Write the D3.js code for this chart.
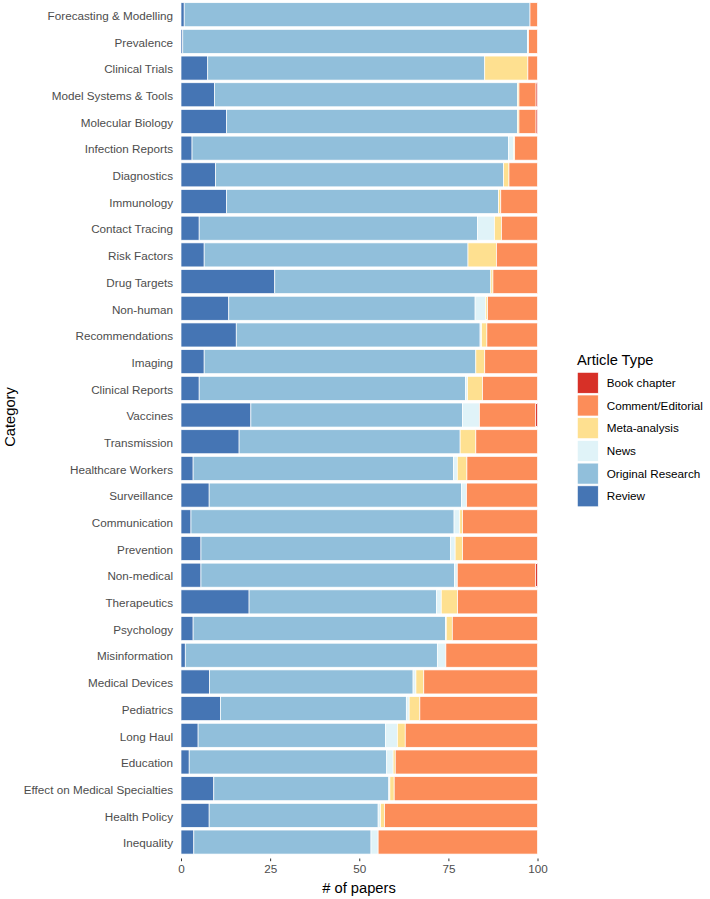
<!DOCTYPE html>
<html><head><meta charset="utf-8">
<script src="https://cdn.jsdelivr.net/npm/d3@7/dist/d3.min.js"></script>
<style>body{margin:0;background:#fff;font-family:"Liberation Sans",Arial,sans-serif;}</style>
</head><body><svg id="c" width="710" height="899"></svg>
<script>
const categories = ["Forecasting & Modelling","Prevalence","Clinical Trials","Model Systems & Tools","Molecular Biology","Infection Reports","Diagnostics","Immunology","Contact Tracing","Risk Factors","Drug Targets","Non-human","Recommendations","Imaging","Clinical Reports","Vaccines","Transmission","Healthcare Workers","Surveillance","Communication","Prevention","Non-medical","Therapeutics","Psychology","Misinformation","Medical Devices","Pediatrics","Long Haul","Education","Effect on Medical Specialties","Health Policy","Inequality"];
const types = ["Book chapter","Comment/Editorial","Meta-analysis","News","Original Research","Review"];
const colors = ["#d73027","#fc8d59","#fee090","#e0f3f8","#91bfdb","#4575b4"];
const review   = [0.9,0.5,7.5,9.4,12.8,3.1,9.7,12.8,5.1,6.5,26.3,13.4,15.5,6.5,5.1,19.6,16.3,3.4,7.9,2.8,5.6,5.6,19.1,3.4,1.2,8.0,11.1,4.8,2.3,9.2,7.9,3.6];
const original = [97.0,96.7,77.7,85.0,81.6,88.8,80.8,76.3,78.1,74.0,60.6,69.1,68.4,76.2,74.7,59.4,62.0,73.0,70.8,73.8,70.0,71.1,52.6,70.8,70.7,57.1,52.1,52.6,55.4,49.1,47.4,49.7];
const news     = [0,0.3,0,0,0,1.4,0,0,4.7,0,0,3.0,0.4,0,0.6,4.7,0,1.1,1.4,1.6,1.3,0.8,1.3,0.2,2.4,0.8,0.8,3.3,1.8,0.3,0.7,2.0];
const meta     = [0,0,12.1,0.4,0.4,0.3,1.5,0.6,2.0,8.0,0.6,0.5,1.5,2.5,4.2,0,4.4,2.7,0,0.8,2.1,0,4.6,1.7,0,2.2,3.0,2.2,0.6,1.2,1.1,0];
const comment  = [2.1,2.5,2.7,4.8,4.8,6.4,8.0,10.3,10.1,11.5,12.5,14.0,14.2,14.8,15.4,15.8,17.3,19.8,19.9,21.0,21.0,22.0,22.4,23.9,25.7,31.9,33.0,37.1,39.9,40.2,42.9,44.7];
const book     = [0,0,0,0.4,0.4,0,0,0,0,0,0,0,0,0,0,0.5,0,0,0,0,0,0.5,0,0,0,0,0,0,0,0,0,0];
const xTicks = [0,25,50,75,100];

const rows = categories.map((c,i)=>({category:c,"Review":review[i],"Original Research":original[i],"News":news[i],"Meta-analysis":meta[i],"Comment/Editorial":comment[i],"Book chapter":book[i]}));
const stackOrder = ["Review","Original Research","News","Meta-analysis","Comment/Editorial","Book chapter"];
const stack = d3.stack().keys(stackOrder).offset(d3.stackOffsetExpand);
const series = stack(rows);
const color = d3.scaleOrdinal().domain(types).range(colors);

const svg = d3.select("#c");
const x = d3.scaleLinear().domain([0,1]).range([181,537.5]);
const xAxisScale = d3.scaleLinear().domain([0,100]).range([181,537.5]);
const y = d3.scaleBand().domain(categories).range([1.35,855.4]).paddingInner(0.1).paddingOuter(0.05);

svg.append("g").selectAll("g").data(series).join("g")
  .attr("fill",d=>color(d.key))
  .selectAll("rect").data(d=>d.filter(p=>p[1]-p[0]>0)).join("rect")
  .attr("x",d=>x(d[0])).attr("width",d=>x(d[1])-x(d[0]))
  .attr("y",d=>y(d.data.category)).attr("height",y.bandwidth())
  .attr("stroke","#fff").attr("stroke-width",0.7);

// y axis labels
const ya = svg.append("g").attr("transform","translate(181,1.5)")
  .call(d3.axisLeft(y).tickSize(0).tickPadding(8));
ya.select(".domain").remove();
ya.selectAll("text").attr("font-size","11.7px").attr("fill","#4d4d4d").attr("font-family","Liberation Sans, Arial, sans-serif");

// x axis
const xa = svg.append("g").attr("transform","translate(0,858.5)")
  .call(d3.axisBottom(xAxisScale).tickValues(xTicks).tickSize(2.7).tickPadding(3.5));
xa.select(".domain").remove();
xa.selectAll("line").attr("stroke","#333");
xa.selectAll("text").attr("font-size","11.7px").attr("fill","#4d4d4d").attr("font-family","Liberation Sans, Arial, sans-serif");

svg.append("text").attr("x",359).attr("y",893).attr("text-anchor","middle")
  .attr("font-size","14.7px").attr("fill","#000").text("# of papers");
svg.append("text").attr("transform","translate(15,417) rotate(-90)").attr("text-anchor","middle")
  .attr("font-size","14.7px").attr("fill","#000").text("Category");

// legend
const lg = svg.append("g");
lg.append("text").attr("x",577).attr("y",365).attr("font-size","14.7px").attr("fill","#000").text("Article Type");
types.forEach((t,i)=>{
  const yy = 372.3 + i*22.7;
  lg.append("rect").attr("x",577.3).attr("y",yy).attr("width",21).attr("height",21).attr("fill",color(t)).attr("stroke","#fff").attr("stroke-width",0.7);
  lg.append("text").attr("x",606.7).attr("y",yy+10.5).attr("dy","0.35em").attr("font-size","11.7px").attr("fill","#000").text(t);
});
</script></body></html>
